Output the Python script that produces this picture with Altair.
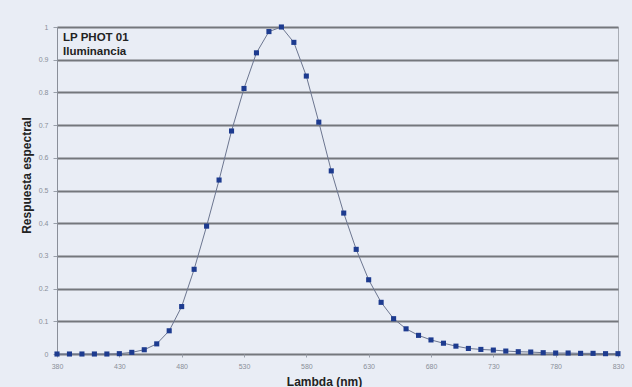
import altair as alt
import pandas as pd

# Spectral response of the LP PHOT 01 photometric probe, sampled every 10 nm
wavelength_nm = list(range(380, 840, 10))
response = [
    0.000, 0.000, 0.000, 0.000, 0.000, 0.001, 0.005, 0.013, 0.031, 0.071,
    0.145, 0.259, 0.391, 0.532, 0.682, 0.812, 0.921, 0.986, 1.000, 0.953,
    0.850, 0.709, 0.560, 0.431, 0.320, 0.227, 0.158, 0.108, 0.077, 0.057,
    0.043, 0.033, 0.024, 0.017, 0.014, 0.012, 0.009, 0.007, 0.006, 0.004,
    0.003, 0.003, 0.002, 0.002, 0.001, 0.001,
]
x_ticks = list(range(380, 831, 50))
y_ticks = [round(i * 0.1, 1) for i in range(11)]
label_text = "LP PHOT 01\nIluminancia"

df = pd.DataFrame({"lambda": wavelength_nm, "resp": response})
notes = pd.DataFrame({"text": [label_text]})

FONT = "Liberation Sans"

x_enc = alt.X(
    "lambda:Q",
    scale=alt.Scale(domain=[380, 830], nice=False, zero=False),
    axis=alt.Axis(
        values=x_ticks, title="Lambda  (nm)", grid=False,
        labelFontSize=7, labelColor="#8a8f99", labelPadding=5,
        labelFlush=False, labelOverlap=False,
        tickColor="#9aa0aa", tickSize=3, domain=False,
        titleFontSize=12, titleFontWeight="bold", titleColor="#222222",
        titleFont=FONT, titleBaseline="top", titleY=22, titleX=267,
        titleAlign="center",
    ),
)
y_enc = alt.Y(
    "resp:Q",
    scale=alt.Scale(domain=[0, 1], nice=False),
    axis=alt.Axis(
        values=y_ticks, title="Respuesta espectral", format=".1~f",
        labelFontSize=7, labelColor="#8a8f99", labelPadding=5,
        labelOverlap=False, labelFlush=False,
        tickColor="#9aa0aa", tickSize=4,
        gridColor="#74777c", gridWidth=1.8,
        domainColor="#8a8f99", domainWidth=1,
        titleFontSize=12, titleFontWeight="bold", titleColor="#222222",
        titleFont=FONT, titleX=-31, titleY=148, titleAngle=-90,
        titleAlign="center", titleBaseline="middle",
    ),
)

line = alt.Chart(df).mark_line(color="#6c7690", strokeWidth=1).encode(x=x_enc, y=y_enc)
points = alt.Chart(df).mark_point(
    shape="square", filled=True, size=26, color="#1d3b8f", opacity=1
).encode(x=x_enc, y=y_enc)

label = alt.Chart(notes).mark_text(
    align="left", baseline="top", font=FONT, fontWeight="bold",
    fontSize=11.5, color="#222222", lineBreak="\n", lineHeight=14,
).encode(
    text="text:N",
    x=alt.value(6),
    y=alt.value(5),
)

chart = (
    alt.layer(line, points, label)
    .properties(
        width=561, height=327,
        padding={"left": 57, "top": 27, "right": 14, "bottom": 33},
        autosize=alt.AutoSizeParams(type="none"),
        background="#e9edf5",
    )
    .configure_view(stroke="#a9adb5", strokeWidth=1)
    .configure_axis(labelFont=FONT)
)

chart.save("out.html", embed_options={"renderer": "svg", "actions": False})
